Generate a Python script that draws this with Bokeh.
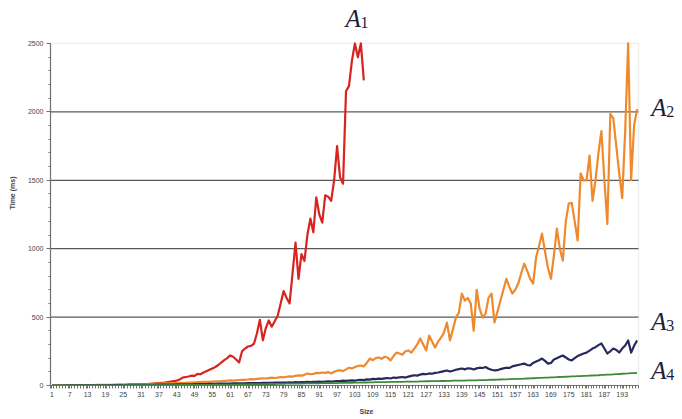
from bokeh.plotting import figure
from bokeh.models import FixedTicker, Range1d, Label, BoxAnnotation
from bokeh.embed import file_html
from bokeh.resources import INLINE

sizes = list(range(1, 199))

a1 = [0, 0, 0, 0, 0, 0, 0, 1, 1, 1,
      1, 1, 1, 1, 2, 2, 2, 2, 2, 3,
      3, 3, 4, 4, 5, 5, 6, 6, 7, 8,
      9, 10, 11, 12, 14, 16, 18, 20, 22, 25,
      28, 32, 36, 44, 58, 62, 66, 72, 70, 85,
      82, 95, 105, 115, 125, 135, 150, 168, 185, 200,
      220, 210, 190, 168, 250, 270, 285, 290, 305, 380,
      480, 330, 420, 475, 430, 470, 510, 600, 690, 640,
      600, 820, 1045, 780, 960, 910, 1100, 1220, 1120, 1375,
      1250, 1190, 1390, 1380, 1350, 1500, 1750, 1520, 1475, 2150,
      2190, 2375, 2500, 2400, 2500, 2230]

a2 = [0, 0, 1, 1, 1, 1, 2, 2, 2, 2,
      2, 3, 3, 3, 3, 4, 4, 4, 5, 5,
      5, 6, 6, 6, 7, 7, 8, 8, 9, 9,
      10, 10, 11, 12, 12, 13, 13, 14, 15, 16,
      16, 17, 18, 19, 20, 19, 21, 22, 23, 24,
      25, 26, 27, 26, 28, 30, 31, 32, 34, 35,
      37, 36, 38, 40, 42, 41, 44, 46, 45, 48,
      50, 52, 51, 54, 57, 55, 58, 62, 60, 64,
      67, 65, 70, 74, 72, 78, 88, 82, 85, 92,
      90, 95, 92, 98, 88, 100, 108, 112, 105, 118,
      130, 125, 135, 142, 146, 140, 165, 197, 185, 200,
      205, 195, 210, 205, 183, 215, 240, 234, 225, 250,
      256, 240, 270, 300, 343, 300, 256, 365, 320, 277,
      320, 350, 387, 460, 330, 410, 496, 533, 672, 620,
      640, 600, 400, 700, 560, 496, 525, 642, 672, 460,
      540, 620, 700, 780, 720, 672, 700, 745, 820, 890,
      840, 780, 745, 935, 1020, 1110, 980, 860, 780, 950,
      1146, 1000, 913, 1200, 1330, 1335, 1200, 1060, 1550, 1500,
      1500, 1680, 1350, 1500, 1700, 1860, 1500, 1180, 1985, 1955,
      1750, 1550, 1370, 1860, 2500, 1500, 1900, 2020]

a3 = [0, 0, 0, 0, 0, 1, 1, 1, 1, 1,
      1, 1, 1, 2, 2, 2, 2, 2, 2, 2,
      3, 3, 3, 3, 3, 3, 4, 4, 4, 4,
      4, 5, 5, 5, 5, 6, 6, 6, 6, 7,
      7, 7, 8, 8, 8, 9, 9, 9, 10, 10,
      10, 11, 11, 12, 12, 12, 13, 13, 14, 14,
      14, 15, 15, 16, 16, 16, 17, 17, 18, 18,
      18, 19, 19, 20, 20, 21, 21, 21, 22, 22,
      23, 22, 24, 23, 25, 24, 26, 25, 27, 26,
      28, 27, 29, 30, 28, 31, 33, 32, 35, 34,
      36, 38, 35, 40, 42, 39, 45, 43, 48, 46,
      50, 48, 52, 55, 51, 58, 56, 60, 62, 58,
      65, 70, 75, 72, 80, 85, 82, 88, 86, 92,
      95, 100, 105, 110, 102, 108, 115, 120, 124, 118,
      126, 124, 117, 125, 130, 128, 135, 122, 115, 110,
      112, 120, 125, 130, 128, 140, 145, 150, 155, 160,
      150, 146, 165, 175, 185, 197, 180, 160, 165, 190,
      200, 210, 219, 205, 190, 183, 200, 215, 225, 234,
      240, 255, 270, 280, 295, 307, 270, 234, 250, 270,
      260, 241, 270, 292, 329, 241, 290, 329]

a4 = [0, 0, 0, 0, 0, 0, 0, 0, 0, 0,
      0, 0, 1, 1, 1, 1, 1, 1, 1, 1,
      1, 1, 1, 1, 2, 2, 2, 2, 2, 2,
      2, 2, 2, 2, 2, 3, 3, 3, 3, 3,
      3, 3, 3, 4, 4, 4, 4, 4, 4, 5,
      5, 5, 5, 5, 6, 6, 6, 6, 6, 7,
      7, 7, 7, 8, 8, 8, 8, 9, 9, 9,
      10, 10, 10, 11, 11, 11, 12, 12, 12, 13,
      13, 13, 14, 14, 14, 15, 15, 15, 16, 16,
      16, 17, 17, 17, 18, 18, 18, 19, 19, 20,
      20, 20, 21, 21, 22, 22, 22, 23, 23, 24,
      24, 24, 25, 25, 26, 26, 26, 27, 27, 28,
      28, 29, 29, 29, 30, 30, 31, 31, 32, 32,
      32, 33, 33, 34, 34, 35, 35, 35, 36, 36,
      37, 37, 38, 38, 39, 40, 40, 41, 42, 42,
      43, 44, 45, 45, 46, 47, 48, 48, 49, 50,
      51, 52, 53, 54, 55, 56, 57, 58, 59, 60,
      61, 62, 63, 64, 65, 66, 67, 68, 69, 70,
      71, 72, 73, 74, 75, 77, 78, 79, 80, 82,
      83, 84, 86, 87, 88, 90, 91, 93]

x_tick_values = [1, 7, 13, 19, 25, 31, 37, 43, 49, 55, 61, 67, 73, 79, 85, 91, 97,
                 103, 109, 115, 121, 127, 133, 139, 145, 151, 157, 163, 169, 175,
                 181, 187, 193]
y_tick_values = [0, 500, 1000, 1500, 2000, 2500]
grid_values = [500, 1000, 1500, 2000]

series_names = ["1", "2", "3", "4"]
series_colors = ["#d8231f", "#ee8a2c", "#27285e", "#3d8a3c"]
series_widths = [2.2, 2.2, 2.2, 1.8]
# label anchor positions in data units (x index, value)
label_x = [99.8, 202.8, 202.8, 202.8]
label_y = [2683, 2032, 468, 112]

x_lo = 0.5
x_hi = len(sizes) + 0.5
y_lo = 0
y_hi = 2500

p = figure(width=682, height=419, output_backend="svg", toolbar_location=None,
           x_range=Range1d(x_lo, 213.3), y_range=Range1d(y_lo, 2814),
           min_border_left=50, min_border_right=0, min_border_top=0,
           min_border_bottom=34, background_fill_color="white",
           border_fill_color="white", outline_line_color=None)

p.xgrid.visible = False
p.ygrid.visible = False

# plot-area box and horizontal grid lines limited to the data area
p.add_layout(BoxAnnotation(left=x_lo, right=x_hi, bottom=y_lo, top=y_hi,
                           fill_alpha=0, line_color="#c8c8c8", line_width=1.2,
                           level="underlay"))
p.segment(x0=[x_lo] * len(grid_values), x1=[x_hi] * len(grid_values),
          y0=grid_values, y1=grid_values, line_color="#5a5a5a", line_width=1.3)

p.yaxis.ticker = FixedTicker(ticks=y_tick_values, minor_ticks=list(range(0, 2501, 100)))
p.xaxis.ticker = FixedTicker(ticks=x_tick_values, minor_ticks=[i + 0.5 for i in range(0, 199)])
p.xaxis.bounds = (x_lo, x_hi)
p.yaxis.bounds = (y_lo, y_hi)

for ax in (p.xaxis, p.yaxis):
    ax.axis_line_color = "#707070"
    ax.axis_line_width = 1.2
    ax.major_tick_line_color = "#707070"
    ax.minor_tick_line_color = "#707070"
    ax.major_tick_in = 0
    ax.minor_tick_in = 0
    ax.major_label_text_font = "Liberation Sans"
    ax.major_label_text_font_size = "7px"
    ax.major_label_text_color = "#444444"
    ax.axis_label_text_font = "Liberation Sans"
    ax.axis_label_text_font_size = "7px"
    ax.axis_label_text_font_style = "bold"
    ax.axis_label_text_color = "#444444"

p.yaxis.major_tick_out = 4
p.yaxis.minor_tick_out = 2
p.yaxis.major_label_standoff = 3
p.yaxis.axis_label = "Time (ms)"
p.yaxis.axis_label_standoff = 9

p.xaxis.major_tick_out = 3
p.xaxis.minor_tick_out = 3
p.xaxis.major_label_standoff = 3
p.xaxis.axis_label = "Size"
p.xaxis.axis_label_standoff = 8

for vals, col, w in zip([a1, a2, a3, a4], series_colors, series_widths):
    p.line(sizes[:len(vals)], vals, line_color=col, line_width=w, line_join="round")

for name, lx, ly in zip(series_names, label_x, label_y):
    p.add_layout(Label(x=lx, y=ly, text="A", text_font="Liberation Serif",
                       text_font_style="italic", text_font_size="25px",
                       text_color="#1d1d3c", text_baseline="alphabetic"))
    p.add_layout(Label(x=lx, y=ly, x_offset=15, y_offset=-4, text=name,
                       text_font="Liberation Serif", text_font_size="16px",
                       text_color="#1d1d3c", text_baseline="alphabetic"))

open("out.html", "w").write(file_html(p, INLINE))
